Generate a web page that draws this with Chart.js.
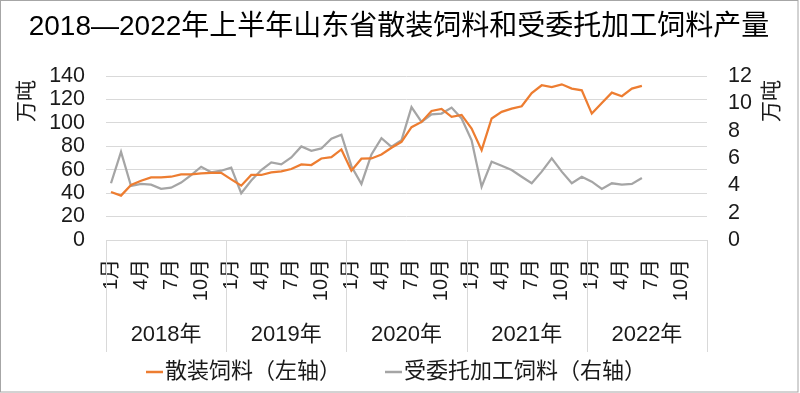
<!DOCTYPE html>
<html>
<head>
<meta charset="utf-8">
<script src="https://cdn.jsdelivr.net/npm/chart.js@4"></script>
<style>
html,body{margin:0;padding:0;background:#fff;}
#wrap{position:relative;width:800px;height:393px;}
canvas{display:block;}
</style>
</head>
<body>
<div id="wrap"><canvas id="c" width="800" height="393"></canvas></div>
<script>
const chartTitle = '2018—2022年上半年山东省散装饲料和受委托加工饲料产量';
const years = ['2018年', '2019年', '2020年', '2021年', '2022年'];
const monthTickLabels = ['1月', '', '', '4月', '', '', '7月', '', '', '10月', '', ''];
const categories = years.flatMap(y => [1,2,3,4,5,6,7,8,9,10,11,12].map(m => y + m + '月'));
const leftTicks = [0, 20, 40, 60, 80, 100, 120, 140];
const rightTicks = [0, 2, 4, 6, 8, 10, 12];
const unitLabel = '万吨';
const seriesNames = ['散装饲料（左轴）', '受委托加工饲料（右轴）'];

// 散装饲料 (left axis, 万吨)
const bulkFeed = [
  41.0, 37.9, 46.9, 50.6, 53.5, 53.5, 54.0, 56.0, 56.0, 56.9, 57.4, 57.4,
  51.8, 46.4, 55.5, 55.5, 57.7, 58.6, 60.6, 64.5, 64.0, 69.6, 70.8, 77.3,
  59.1, 69.4, 69.6, 73.0, 78.7, 83.8, 96.3, 100.8, 110.2, 111.9, 105.1, 106.8,
  95.2, 76.7, 103.7, 109.4, 112.2, 114.2, 125.5, 132.1, 130.6, 132.9, 129.2, 127.8,
  107.9, 117.0, 125.8, 122.7, 129.2, 131.5
];
// 受委托加工饲料 (right axis, 万吨)
const entrustedFeed = [
  4.15, 6.45, 3.95, 4.10, 4.05, 3.75, 3.83, 4.20, 4.75, 5.36, 4.95, 5.07,
  5.29, 3.42, 4.35, 5.12, 5.68, 5.53, 6.04, 6.85, 6.53, 6.70, 7.41, 7.70,
  5.40, 4.10, 6.26, 7.45, 6.82, 7.30, 9.72, 8.64, 9.20, 9.25, 9.69, 8.89,
  7.30, 3.90, 5.73, 5.43, 5.12, 4.63, 4.15, 5.00, 5.97, 5.00, 4.15, 4.63,
  4.27, 3.73, 4.15, 4.05, 4.10, 4.53
];

const FONT = '"Liberation Sans", "Noto Sans CJK SC", sans-serif';
const TEXT = '#1a1a1a';
const GRID = '#d9d9d9';
const ORANGE = '#ED7D31';
const GRAY = '#A5A5A5';

const decor = {
  id: 'decor',
  afterDraw(chart) {
    const ctx = chart.ctx;
    const ca = chart.chartArea;
    const x = chart.scales.x;
    ctx.save();
    // frame
    ctx.strokeStyle = '#a6a6a6';
    ctx.lineWidth = 1;
    ctx.strokeRect(0.5, 0.5, 797.5, 391.5);
    // title
    ctx.fillStyle = '#000';
    ctx.font = '28px ' + FONT;
    ctx.textAlign = 'center';
    ctx.textBaseline = 'middle';
    ctx.fillText(chartTitle, 399, 27);
    // axis unit titles
    ctx.font = '21px ' + FONT;
    ctx.fillStyle = TEXT;
    [[27, 101], [772, 101]].forEach(([px, py]) => {
      ctx.save();
      ctx.translate(px, py);
      ctx.rotate(-Math.PI / 2);
      ctx.fillText(unitLabel, 0, 0);
      ctx.restore();
    });
    // year group separators and labels
    const half = (x.getPixelForValue(1) - x.getPixelForValue(0)) / 2;
    const bounds = [];
    for (let k = 0; k <= years.length; k++) {
      bounds.push(x.getPixelForValue(12 * k) - half);
    }
    ctx.strokeStyle = GRID;
    ctx.lineWidth = 1;
    bounds.forEach(b => {
      const bx = Math.round(b) + 0.5;
      ctx.beginPath();
      ctx.moveTo(bx, ca.bottom);
      ctx.lineTo(bx, 352);
      ctx.stroke();
    });
    ctx.font = '22px ' + FONT;
    ctx.fillStyle = TEXT;
    years.forEach((y, k) => {
      ctx.fillText(y, (bounds[k] + bounds[k + 1]) / 2, 335);
    });
    // legend
    ctx.font = '22px ' + FONT;
    ctx.textAlign = 'left';
    const lineW = 17, gapT = 2, gapItem = 44;
    const widths = seriesNames.map(n => lineW + gapT + ctx.measureText(n).width);
    const total = widths[0] + gapItem + widths[1];
    let lx = 396 - total / 2;
    const ly = 372;
    chart.data.datasets.forEach((ds, i) => {
      ctx.strokeStyle = ds.borderColor;
      ctx.lineWidth = 2.5;
      ctx.beginPath();
      ctx.moveTo(lx, ly);
      ctx.lineTo(lx + lineW, ly);
      ctx.stroke();
      ctx.fillStyle = TEXT;
      ctx.fillText(seriesNames[i], lx + lineW + gapT, ly);
      lx += widths[i] + gapItem;
    });
    ctx.restore();
  }
};

new Chart(document.getElementById('c'), {
  type: 'line',
  data: {
    labels: categories,
    datasets: [
      { label: seriesNames[0], data: bulkFeed, borderColor: ORANGE, backgroundColor: ORANGE, yAxisID: 'y', borderWidth: 2.25 },
      { label: seriesNames[1], data: entrustedFeed, borderColor: GRAY, backgroundColor: GRAY, yAxisID: 'y1', borderWidth: 2.25 }
    ]
  },
  options: {
    responsive: false,
    animation: false,
    devicePixelRatio: 1,
    layout: { padding: { top: 76, left: 0, right: 0, bottom: 0 } },
    elements: { point: { radius: 0, hoverRadius: 0 }, line: { tension: 0 } },
    plugins: { legend: { display: false }, title: { display: false }, tooltip: { enabled: false } },
    scales: {
      x: {
        type: 'category',
        offset: true,
        grid: { display: false, drawTicks: false },
        border: { display: false },
        ticks: {
          autoSkip: false, minRotation: 90, maxRotation: 90, padding: 19,
          color: TEXT, font: { size: 20, family: FONT },
          callback: (v, i) => monthTickLabels[i % 12]
        },
        afterFit: s => { s.height = 153; }
      },
      y: {
        position: 'left', min: 0, max: 140,
        afterBuildTicks: s => { s.ticks = leftTicks.map(v => ({ value: v })); },
        grid: { color: GRID, lineWidth: 1, drawTicks: false },
        border: { display: false },
        ticks: { autoSkip: false, padding: 21, color: TEXT, font: { size: 21.5, family: FONT, lineHeight: 1 } },
        afterFit: s => { s.width = 106; }
      },
      y1: {
        position: 'right', min: 0, max: 12,
        afterBuildTicks: s => { s.ticks = rightTicks.map(v => ({ value: v })); },
        grid: { display: false, drawTicks: false },
        border: { display: false },
        ticks: { autoSkip: false, padding: 21, color: TEXT, font: { size: 21.5, family: FONT, lineHeight: 1 } },
        afterFit: s => { s.width = 93; }
      }
    }
  },
  plugins: [decor]
});
</script>
</body>
</html>
